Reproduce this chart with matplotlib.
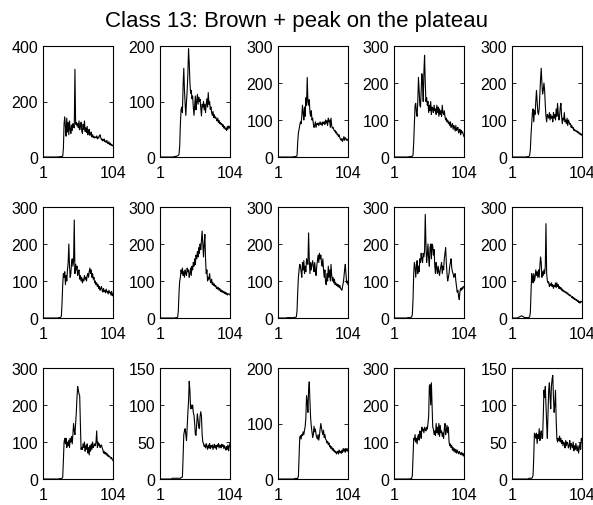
import numpy as np
import matplotlib
matplotlib.use('Agg')
import matplotlib.pyplot as plt

plt.rcParams['font.family'] = ['Liberation Sans', 'DejaVu Sans']

# spectra (104 bands each)
s1 = [0,0,0,0,0,0,0,0,0,0,0,0,0,
      0,0,0,0,0,0,0,0,0,0,1,1,1,
      1,2,2,3,30,120,145,110,75,140,90,125,80,
      130,100,85,115,95,120,110,105,316,118,125,112,120,
      105,130,98,110,125,95,85,118,100,130,92,105,88,
      110,80,95,100,78,85,90,72,80,70,75,68,72,
      70,76,65,72,68,78,80,70,62,65,58,60,65,
      55,58,52,60,50,48,55,45,50,42,46,40,42]
s2 = [0,0,0,0,0,0,0,0,0,0,0,0,0,
      0,0,0,0,0,0,0,0,1,1,1,1,2,
      2,3,5,20,60,85,90,80,130,160,120,95,75,
      100,120,150,195,170,135,115,120,105,110,90,75,92,
      110,85,100,113,95,108,100,104,88,74,95,90,100,
      85,95,80,95,105,90,116,95,100,86,90,80,75,
      82,71,76,70,72,68,65,70,62,66,60,62,58,
      60,55,58,52,55,50,52,48,55,50,56,52,55]
s3 = [0,0,0,0,0,0,0,0,0,0,0,0,0,
      0,0,0,0,0,0,0,0,0,0,1,1,1,
      1,2,3,40,65,75,85,95,90,110,140,120,100,
      135,110,160,140,215,150,140,155,120,110,125,100,105,
      90,80,85,95,80,90,88,92,85,90,95,88,92,
      85,95,90,95,88,100,92,98,85,105,95,100,80,
      105,85,78,80,75,70,72,65,68,60,62,55,60,
      52,48,45,50,42,48,55,45,52,50,45,48,45]
s4 = [0,0,0,0,0,0,0,0,0,0,0,0,0,
      0,0,0,0,0,0,0,0,0,1,1,1,1,
      2,2,5,40,90,140,145,120,110,150,215,180,140,
      135,180,225,200,150,230,275,200,150,160,140,150,120,
      140,125,150,115,135,130,120,140,125,130,115,140,120,
      135,110,130,115,125,110,140,120,115,125,110,100,105,
      95,100,90,95,85,95,80,85,90,75,85,80,70,
      85,72,75,80,65,70,75,60,72,65,68,60,55]
s5 = [0,0,0,0,0,0,0,0,0,0,0,0,0,
      0,0,0,0,0,0,0,0,0,1,1,1,2,
      5,20,60,90,120,130,95,125,115,150,180,150,120,
      115,130,170,210,240,200,170,180,200,180,140,110,95,
      115,110,105,120,100,115,105,110,95,120,105,115,100,
      130,110,145,120,100,110,135,145,110,90,105,100,120,
      95,100,90,105,85,100,95,88,90,80,85,78,80,
      72,75,70,72,68,70,65,68,62,65,60,62,58]
s6 = [0,0,0,0,0,0,0,0,0,0,0,0,0,
      0,0,0,0,0,0,0,0,0,0,1,1,1,
      2,5,40,90,120,110,125,90,115,100,130,150,200,
      140,110,120,150,160,140,155,265,120,145,130,140,115,
      125,130,105,115,100,110,95,105,100,115,105,110,100,
      115,120,110,125,135,120,130,110,120,105,110,95,100,
      90,95,85,90,80,85,75,80,85,75,70,80,72,
      75,68,78,70,72,65,75,68,70,62,72,60,65]
s7 = [0,0,0,0,0,0,0,0,0,0,0,0,0,
      0,0,0,0,0,0,0,0,0,0,1,1,1,
      3,20,70,100,110,130,120,135,115,125,110,130,120,
      115,135,125,130,110,120,135,115,140,130,150,140,160,
      145,170,160,180,165,190,175,200,185,210,235,200,165,
      200,226,160,120,130,100,110,105,120,100,95,105,90,
      95,88,92,85,88,80,84,78,82,75,80,72,76,
      70,74,68,72,66,70,64,68,62,66,64,65,62]
s8 = [0,0,0,0,0,0,0,0,0,0,0,0,0,
      1,1,1,1,1,1,1,1,1,1,1,1,2,
      2,3,20,70,110,130,145,140,125,110,150,130,155,
      120,140,125,160,150,145,230,160,120,150,130,145,155,
      140,125,150,130,115,140,155,170,150,175,160,170,150,
      140,160,130,110,130,95,90,120,100,140,110,130,100,
      145,115,100,110,95,105,90,95,88,92,85,90,82,
      88,80,78,75,85,95,110,130,145,120,95,100,90]
s9 = [0,0,0,0,0,0,0,0,0,0,0,0,0,
      0,0,0,0,0,0,0,1,1,1,1,1,2,
      3,10,50,120,150,140,110,135,155,120,140,125,160,
      150,175,160,150,175,165,180,280,200,150,170,200,160,
      140,190,200,160,200,195,170,185,140,120,150,135,120,
      140,125,115,130,140,150,120,140,130,160,175,190,150,
      120,100,110,120,140,150,160,135,125,120,110,115,120,
      100,85,70,75,60,50,70,80,75,82,78,85,85]
s10 = [0,0,0,0,0,0,0,0,0,1,2,3,4,
       5,6,5,4,3,2,1,1,1,1,1,1,2,
       3,15,70,120,110,95,120,100,110,130,115,125,110,
       130,110,140,165,150,110,125,115,130,120,140,255,120,
       100,95,98,85,92,88,95,85,90,80,88,85,95,
       82,95,85,90,80,85,78,82,75,78,72,75,70,
       72,68,70,65,68,62,64,60,62,58,55,58,52,
       55,50,52,48,50,45,48,42,45,40,45,43,45]
s11 = [0,0,0,0,0,0,0,0,0,0,0,0,0,
       0,0,0,0,0,0,0,0,0,0,0,1,1,
       1,1,2,5,50,100,110,95,110,85,100,90,105,
       85,110,100,115,95,120,150,130,120,150,180,220,250,
       240,230,225,150,80,85,80,95,85,100,75,90,80,
       95,70,85,65,90,75,95,80,100,85,90,95,90,
       100,130,85,100,90,95,85,90,92,85,80,70,75,
       68,72,65,70,62,65,60,62,58,55,58,52,50]
s12 = [0,0,0,0,0,0,0,0,0,0,0,0,0,
       0,0,0,0,0,1,1,1,1,1,1,1,1,
       1,1,1,1,1,2,2,3,30,60,65,68,60,
       52,70,90,105,132,120,95,100,95,100,90,86,75,
       60,59,75,88,80,70,68,85,91,85,60,50,48,
       44,46,42,48,44,40,46,42,48,41,45,43,46,
       40,44,47,42,45,40,46,44,48,42,46,45,42,
       47,44,46,41,45,42,39,44,40,46,38,44,48]
s13 = [0,0,0,0,0,0,0,0,0,0,0,0,0,
       0,0,0,0,0,0,0,0,0,0,0,0,1,
       1,1,1,1,5,40,75,78,72,80,78,85,80,
       88,95,110,150,140,120,160,175,140,110,95,85,75,
       80,95,85,90,80,75,72,80,70,78,90,100,92,
       85,80,88,75,80,72,70,65,68,62,65,58,60,
       55,58,52,55,50,52,48,50,45,48,50,45,52,
       48,50,46,52,48,55,50,54,48,55,52,50,55]
s14 = [0,0,0,0,0,0,0,0,0,0,0,0,0,
       0,0,0,0,0,0,0,0,0,0,0,1,1,
       2,10,60,110,105,120,100,110,95,115,120,105,130,
       125,110,140,130,135,125,140,135,130,140,135,150,170,
       250,255,200,260,200,140,135,120,130,118,150,125,140,
       120,150,115,145,125,130,115,125,110,135,150,120,130,
       145,125,140,100,90,95,85,90,78,85,75,82,72,
       80,70,78,72,68,75,70,66,72,65,70,62,68]
s15 = [0,0,0,0,0,0,0,0,0,0,0,0,0,
       0,0,0,0,0,0,0,0,0,0,0,0,1,
       1,1,1,1,2,5,30,62,60,55,62,48,60,
       55,68,52,60,65,55,55,85,120,110,125,100,75,
       55,90,120,130,110,95,125,135,140,110,90,100,120,
       80,55,50,55,52,58,50,55,48,52,45,50,48,
       42,52,45,50,48,42,45,52,40,48,45,42,50,
       38,45,40,48,42,38,45,35,42,48,40,55,52]

spectra = [s1, s2, s3, s4, s5, s6, s7, s8, s9, s10, s11, s12, s13, s14, s15]
ymax = [400, 200, 300, 300, 300,
        300, 300, 300, 300, 300,
        300, 150, 200, 300, 150]
yticks = [[0, 200, 400], [0, 100, 200], [0, 100, 200, 300], [0, 100, 200, 300], [0, 100, 200, 300],
          [0, 100, 200, 300], [0, 100, 200, 300], [0, 100, 200, 300], [0, 100, 200, 300], [0, 100, 200, 300],
          [0, 100, 200, 300], [0, 50, 100, 150], [0, 100, 200], [0, 100, 200, 300], [0, 50, 100, 150]]
xticks = [1, 104]
title = 'Class 13: Brown + peak on the plateau'

fig = plt.figure(figsize=(5.93, 5.06), dpi=100)
W, H = 593.0, 506.0
lefts = [43, 160, 278, 394, 512]
tops = [47, 208, 369]
aw, ah = 70, 111

for k, s in enumerate(spectra):
    r, c = divmod(k, 5)
    ax = fig.add_axes([lefts[c] / W, 1 - (tops[r] + ah) / H, aw / W, ah / H])
    x = np.arange(1, len(s) + 1)
    ax.plot(x, s, color='black', linewidth=0.8)
    ax.set_xlim(1, 104)
    ax.set_ylim(0, ymax[k])
    ax.set_xticks(xticks)
    ax.set_yticks(yticks[k])
    ax.tick_params(direction='in', length=3, width=0.6, labelsize=11.5,
                   top=True, right=True)
    ax.tick_params(axis='x', pad=6)
    ax.tick_params(axis='y', pad=3.5)
    for sp in ax.spines.values():
        sp.set_linewidth(0.8)

fig.text(0.5, 1 - 22 / H, title, ha='center', va='center', fontsize=16)

fig.savefig('out.png', dpi=100)
